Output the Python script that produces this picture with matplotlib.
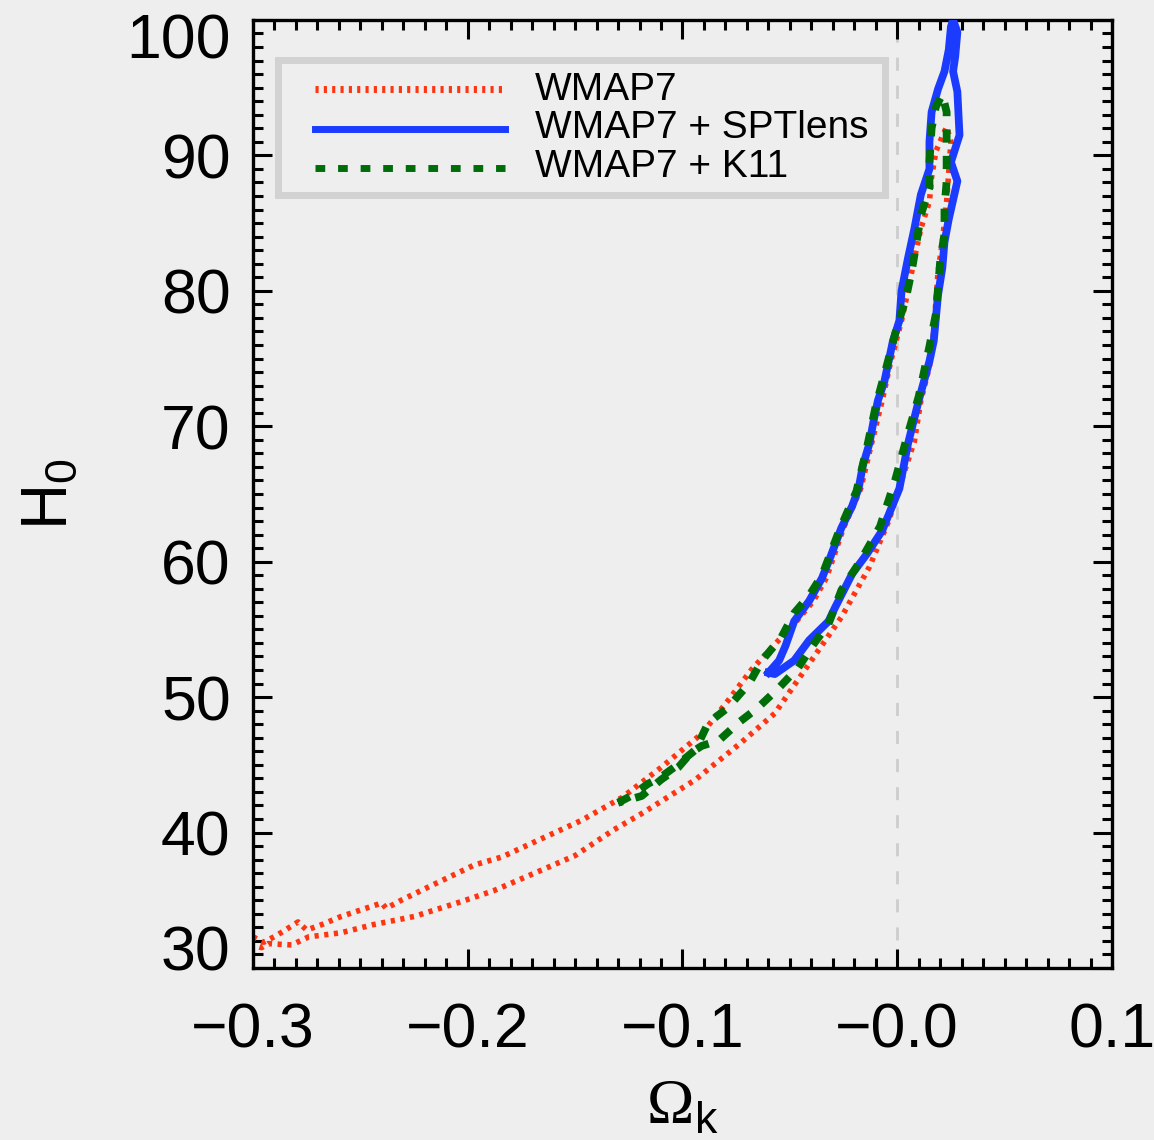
""" H0 vs Omega_k constraints: WMAP7, WMAP7+SPTlens, WMAP7+K11 """

import matplotlib.pyplot as plt
from matplotlib.patches import Rectangle
from matplotlib.ticker import MultipleLocator
from matplotlib.transforms import ScaledTranslation

# 68% contour outlines as (Omega_k, H0) loops
wmap7_ok = [-0.300, -0.295, -0.289, -0.279, -0.275, -0.268, -0.259, -0.240, -0.238, -0.231,
            -0.218, -0.197, -0.184, -0.169, -0.147, -0.128, -0.110, -0.091, -0.079, -0.068,
            -0.057, -0.048, -0.039, -0.033, -0.025, -0.017, -0.012, -0.007, -0.003, 0.002,
            0.005, 0.008, 0.011, 0.015, 0.016, 0.018, 0.021, 0.023,
            0.025, 0.024, 0.023, 0.021, 0.019, 0.018, 0.017, 0.015, 0.011, 0.008,
            0.002, -0.004, -0.013, -0.026, -0.040, -0.057, -0.073, -0.094, -0.119, -0.132,
            -0.150, -0.166, -0.188, -0.203, -0.225, -0.244, -0.259, -0.274, -0.282, -0.293,
            -0.296, -0.300]
wmap7_h0 = [32.3, 31.9, 32.4, 33.4, 32.8, 33.2, 33.8, 34.8, 34.4, 35.0,
            36.0, 37.6, 38.2, 39.3, 40.9, 42.6, 44.8, 47.3, 49.7, 52.0,
            53.9, 55.4, 57.1, 58.8, 62.5, 65.4, 68.7, 71.9, 74.8, 77.8,
            80.0, 82.4, 84.6, 86.6, 88.4, 90.3, 91.4, 92.1,
            91.0, 88.8, 86.6, 83.6, 81.4, 79.2, 77.0, 74.4, 71.9, 68.9,
            66.0, 63.0, 59.6, 55.9, 52.7, 48.8, 46.6, 43.9, 41.4, 40.2,
            38.3, 37.2, 35.7, 34.9, 33.8, 33.2, 32.6, 32.3, 31.7, 31.8,
            31.5, 31.7]

spt_ok = [-0.060, -0.055, -0.052, -0.048, -0.041, -0.035, -0.031, -0.026, -0.021, -0.018,
          -0.016, -0.013, -0.011, -0.009, -0.006, -0.004, -0.002, 0.001, 0.002, 0.005,
          0.008, 0.011, 0.015, 0.015, 0.016, 0.019, 0.022, 0.024, 0.025, 0.026,
          0.028, 0.027, 0.026, 0.028, 0.029, 0.025, 0.028, 0.024, 0.022, 0.021,
          0.019, 0.018, 0.017, 0.015, 0.010, 0.005, 0.001, -0.007, -0.014, -0.021,
          -0.029, -0.032, -0.041, -0.048, -0.057, -0.060]
spt_h0 = [51.8, 52.7, 53.8, 55.6, 57.1, 58.8, 60.4, 62.5, 64.1, 65.4,
          67.1, 68.7, 70.4, 71.9, 73.3, 74.8, 76.3, 77.8, 80.0, 82.4,
          84.6, 87.1, 89.0, 91.0, 93.2, 94.9, 96.2, 97.8, 99.5, 100.0,
          99.1, 97.3, 96.2, 94.7, 91.5, 89.5, 88.1, 85.3, 83.6, 81.7,
          79.7, 78.0, 76.3, 74.8, 71.9, 68.7, 65.4, 62.3, 60.6, 59.1,
          56.6, 55.6, 54.2, 52.7, 51.7, 51.8]

k11_ok = [-0.130, -0.124, -0.116, -0.110, -0.104, -0.094, -0.088, -0.079, -0.069, -0.063,
          -0.054, -0.048, -0.041, -0.035, -0.027, -0.019, -0.014, -0.010, -0.005, 0.000,
          0.004, 0.007, 0.009, 0.011, 0.015, 0.015, 0.016, 0.018, 0.021,
          0.023, 0.023, 0.023, 0.022, 0.022, 0.020, 0.019, 0.018, 0.015, 0.010,
          0.004, -0.001, -0.008, -0.017, -0.026, -0.032, -0.039, -0.046, -0.055, -0.065,
          -0.074, -0.083, -0.091, -0.096, -0.102, -0.110, -0.119, -0.130]
k11_h0 = [42.2, 42.7, 43.6, 44.1, 44.8, 46.1, 48.1, 49.2, 51.0, 52.7,
          54.4, 56.2, 57.5, 59.0, 62.3, 65.2, 68.5, 71.5, 74.4, 77.4,
          79.4, 81.7, 83.6, 85.6, 87.6, 89.5, 92.0, 93.6, 94.5,
          93.2, 90.1, 88.1, 86.1, 84.2, 82.2, 80.2, 78.3, 75.9, 72.2,
          68.9, 66.0, 62.6, 60.1, 57.9, 55.4, 53.9, 52.2, 50.7, 49.2,
          48.1, 46.8, 46.4, 45.9, 44.8, 43.9, 42.7, 42.2]

labels = ["WMAP7", "WMAP7 + SPTlens", "WMAP7 + K11"]
xticks = [-0.3, -0.2, -0.1, 0.0, 0.1]
xtick_labels = ["\u22120.3", "\u22120.2", "\u22120.1", "\u22120.0", "0.1"]
yticks = [30, 40, 50, 60, 70, 80, 90, 100]

bg = "#eeeeee"
red, blue, green = "#ff3512", "#1b3cff", "#006e08"

plt.rcParams.update({"font.family": ["Liberation Sans", "DejaVu Sans"],
                     "mathtext.fontset": "custom",
                     "mathtext.rm": "Liberation Sans",
                     "mathtext.sf": "Liberation Serif"})

fig = plt.figure(figsize=(11.54, 11.40), dpi=100, facecolor=bg)
ax = fig.add_axes([0.2192, 0.1509, 0.9636 - 0.2192, 0.9825 - 0.1509], facecolor=bg)

ax.axvline(0.0, color="#cdcdcd", lw=2, ls=(0, (4.7, 5.4)), zorder=1)

red_ls = (0, (0.75, 1.0))
green_ls = (0, (1.7, 1.7))
ax.plot(wmap7_ok, wmap7_h0, color=red, lw=4.0, ls=red_ls, dash_capstyle="butt", zorder=2)
ax.plot(spt_ok, spt_h0, color=blue, lw=5.6, solid_joinstyle="round", zorder=3)
ax.plot(k11_ok, k11_h0, color=green, lw=5.6, ls=green_ls, dash_capstyle="butt", zorder=4)

ax.set_xlim(-0.3, 0.1)
ax.set_ylim(30, 100)

ax.set_xticks(xticks, xtick_labels)
ax.set_yticks(yticks)
ax.xaxis.set_minor_locator(MultipleLocator(0.01))
ax.yaxis.set_minor_locator(MultipleLocator(1))
ax.tick_params(which="both", direction="in", top=True, right=True, width=2.2, labelsize=45)
ax.tick_params(which="major", length=14)
ax.tick_params(which="minor", length=7)
ax.tick_params(axis="x", pad=24)
ax.tick_params(axis="y", pad=16)
for sp in ax.spines.values():
    sp.set_linewidth(2.4)

# IDL style: end labels pulled inside the axis range
yl = ax.yaxis.get_major_ticks()
yl[0].label1.set_transform(yl[0].label1.get_transform()
                           + ScaledTranslation(0, 0.20, fig.dpi_scale_trans))
yl[-1].label1.set_transform(yl[-1].label1.get_transform()
                            + ScaledTranslation(0, -0.16, fig.dpi_scale_trans))

ax.set_xlabel(r"$\mathsf{\Omega}_{\mathrm{k}}$", fontsize=46, labelpad=12)
ax.set_ylabel(r"H$_0$", fontsize=46, labelpad=34)

# legend box drawn by hand to match the tight IDL layout
ax.add_patch(Rectangle((0.029, 0.815), 0.707, 0.143, transform=ax.transAxes,
                       facecolor=bg, edgecolor="#d2d2d2", lw=5, zorder=5))
line_y = [0.9272, 0.8850, 0.8439]
text_y = [0.9156, 0.8755, 0.8344]
styles = [dict(color=red, lw=5, ls=(0, (0.45, 0.75)), dash_capstyle="butt"),
          dict(color=blue, lw=5),
          dict(color=green, lw=5, ls=(0, (1.4, 1.85)), dash_capstyle="butt")]
for lab, ly, ty, st in zip(labels, line_y, text_y, styles):
    ax.plot([0.0722, 0.2934], [ly, ly], transform=ax.transAxes, zorder=6, **st)
    ax.text(0.3283, ty, lab, transform=ax.transAxes, fontsize=28, va="baseline", zorder=6)

fig.savefig("out.png", dpi=100, facecolor=bg)
